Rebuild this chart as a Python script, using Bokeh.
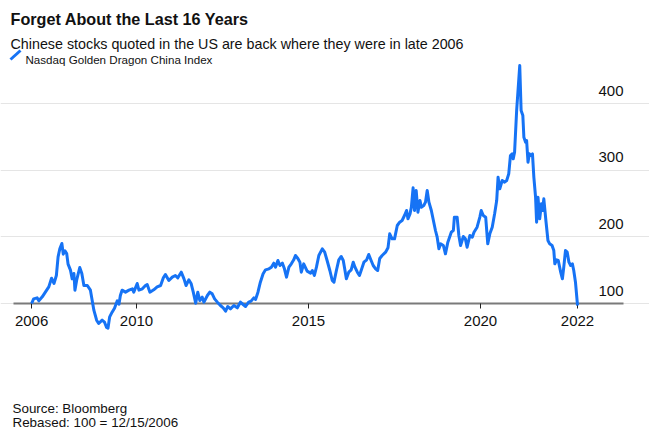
from bokeh.plotting import figure
from bokeh.models import (Range1d, LinearAxis, FixedTicker, CustomJSTickFormatter,
                          Grid, Label, LabelSet, ColumnDataSource, Arrow)
from bokeh.core.properties import value
from bokeh.embed import file_html
from bokeh.resources import INLINE

# ---------------- data ----------------
years = [
    2006.95, 2007.01, 2007.11, 2007.16, 2007.26, 2007.35, 2007.45, 2007.53, 2007.60, 2007.67,
    2007.72, 2007.77, 2007.83, 2007.87, 2007.92, 2007.97, 2008.01, 2008.08, 2008.13, 2008.18,
    2008.21, 2008.26, 2008.35, 2008.41, 2008.47, 2008.57, 2008.66, 2008.71, 2008.76, 2008.84,
    2008.90, 2009.00, 2009.07, 2009.13, 2009.17, 2009.22, 2009.29, 2009.36, 2009.44, 2009.49,
    2009.53, 2009.58, 2009.68, 2009.78, 2009.88, 2009.92, 2010.02, 2010.07, 2010.17, 2010.26,
    2010.31, 2010.39, 2010.50, 2010.60, 2010.70, 2010.78, 2010.84, 2010.94, 2011.04, 2011.13,
    2011.20, 2011.30, 2011.38, 2011.44, 2011.52, 2011.59, 2011.65, 2011.72, 2011.78, 2011.84,
    2011.91, 2011.96, 2012.06, 2012.13, 2012.20, 2012.27, 2012.35, 2012.44, 2012.52, 2012.59,
    2012.65, 2012.73, 2012.83, 2012.93, 2013.02, 2013.10, 2013.17, 2013.26, 2013.33, 2013.41,
    2013.46, 2013.53, 2013.60, 2013.68, 2013.75, 2013.85, 2013.92, 2013.99, 2014.04, 2014.11,
    2014.17, 2014.24, 2014.30, 2014.36, 2014.43, 2014.50, 2014.57, 2014.62, 2014.69, 2014.75,
    2014.79, 2014.86, 2014.96, 2015.06, 2015.11, 2015.17, 2015.23, 2015.30, 2015.40, 2015.47,
    2015.54, 2015.62, 2015.69, 2015.74, 2015.81, 2015.88, 2015.95, 2016.01, 2016.06, 2016.10,
    2016.17, 2016.24, 2016.30, 2016.35, 2016.42, 2016.48, 2016.53, 2016.61, 2016.69, 2016.75,
    2016.82, 2016.88, 2016.95, 2017.01, 2017.07, 2017.14, 2017.24, 2017.31, 2017.36, 2017.43,
    2017.50, 2017.58, 2017.65, 2017.72, 2017.79, 2017.85, 2017.89, 2017.95, 2017.99, 2018.04,
    2018.08, 2018.13, 2018.18, 2018.24, 2018.28, 2018.35, 2018.40, 2018.45, 2018.50, 2018.57,
    2018.63, 2018.69, 2018.74, 2018.79, 2018.84, 2018.92, 2018.98, 2019.05, 2019.15, 2019.21,
    2019.24, 2019.32, 2019.37, 2019.42, 2019.50, 2019.56, 2019.61, 2019.69, 2019.76, 2019.81,
    2019.90, 2019.98, 2020.02, 2020.08, 2020.15, 2020.21, 2020.27, 2020.34, 2020.41, 2020.47,
    2020.51, 2020.56, 2020.63, 2020.70, 2020.76, 2020.82, 2020.87, 2020.92, 2020.95, 2020.99,
    2021.05, 2021.11, 2021.14, 2021.18, 2021.23, 2021.26, 2021.31, 2021.34, 2021.38, 2021.42,
    2021.47, 2021.51, 2021.55, 2021.60, 2021.63, 2021.67, 2021.72, 2021.77, 2021.80, 2021.84,
    2021.90, 2021.96, 2022.01, 2022.08, 2022.13, 2022.16, 2022.21, 2022.26, 2022.33, 2022.38,
    2022.42, 2022.47, 2022.52, 2022.57, 2022.62, 2022.67, 2022.71, 2022.76, 2022.82,
]
index_values = [
    100, 107, 108.5, 104, 110, 117, 125, 138, 130, 142,
    170, 182, 190, 174, 179, 175, 159, 150, 137, 145,
    120, 135, 154, 145, 127, 127, 120, 105, 90, 75,
    70, 75, 72, 64, 63, 80, 87, 93, 104, 99,
    112, 120, 117, 120, 122, 117, 130, 120, 122, 127,
    128.5, 117, 120.5, 125, 127, 138.5, 143.5, 134.5, 139.5, 142,
    138.5, 147, 137, 127, 135.5, 129.5, 117, 100.5, 117, 104.5,
    109.5, 102, 112, 117, 114.5, 107, 102, 97, 93.5, 88.5,
    95.5, 92, 97, 93.5, 102, 98.5, 95.5, 102, 103.5, 108.5,
    106, 117, 132, 144.5, 150.5, 152, 154.5, 160.5, 154.5, 164.5,
    157, 160.5, 152, 139.5, 154.5, 159.5, 165.5, 172, 167.5, 162,
    147, 159.5, 148.5, 145.5, 149.5, 142, 154.5, 172, 182, 177,
    164.5, 149.5, 134.5, 132, 149.5, 165.5, 170.5, 164.5, 149.5, 137,
    147, 150.5, 162, 154.5, 147, 142, 149.5, 162, 165.5, 173.5,
    164.5, 157, 152, 149.5, 167.5, 172, 177, 183.5, 204.5, 197,
    197, 217, 222, 224.5, 232, 239.5, 227, 234.5, 244.5, 273.5,
    239.5, 269.5, 237, 254.5, 244.5, 247, 252, 269.5, 252, 239.5,
    224.5, 209.5, 199.5, 182, 189.5, 187, 174.5, 192, 207, 209.5,
    229.5, 229.5, 202, 187, 200.5, 197, 184.5, 202, 199.5, 207,
    214.5, 229.5, 239.5, 232, 229.5, 189.5, 204.5, 214.5, 234.5, 254.5,
    289.5, 272, 284.5, 282, 284.5, 294.5, 322, 324.5, 317, 327,
    389.5, 434.5, 457, 389.5, 382, 349.5, 342, 344.5, 312, 324.5,
    322, 324.5, 289.5, 259.5, 222, 259.5, 227, 249.5, 239.5, 257,
    224.5, 194.5, 189.5, 187, 179.5, 159.5, 165.5, 164.5, 147, 137,
    154.5, 179.5, 177, 162, 157, 159.5, 149.5, 132, 97,
]
y_ticks = [100, 200, 300, 400]
y_tick_labels = ["100", "200", "300", "400"]
x_ticks = [years[0], 2010, 2015, 2020, years[-1]]

title_text = "Forget About the Last 16 Years"
subtitle_text = "Chinese stocks quoted in the US are back where they were in late 2006"
series_name = "Nasdaq Golden Dragon China Index"
source_text = "Source: Bloomberg"
note_text = "Rebased: 100 = 12/15/2006"

# ---------------- layout / styling ----------------
FONT = "Liberation Sans"
BLUE = "#1673f5"
TEXT = "#111111"
W, H = 649, 435
PLOT_X = (2006.424, 2024.157)   # horizontal extent of grid lines / baseline

# the frame covers the whole canvas; the chart area is bounded by grid/axis bounds
p = figure(width=W, height=H, output_backend="svg", toolbar_location=None,
           x_axis_location=None, y_axis_location=None, title=None,
           x_range=Range1d(2006.046, 2024.912), y_range=Range1d(-98, 554.5),
           min_border=0, outline_line_color=None,
           background_fill_color="white", border_fill_color="white")
p.grid.visible = False

grid = Grid(dimension=1, ticker=FixedTicker(ticks=y_ticks), bounds=PLOT_X,
            grid_line_color="#e5e5e5", grid_line_width=1)
p.add_layout(grid, "center")

xaxis = LinearAxis(ticker=FixedTicker(ticks=x_ticks), bounds=PLOT_X,
                   formatter=CustomJSTickFormatter(code="return Math.floor(tick).toString()"),
                   fixed_location=100,
                   axis_line_color="#7a7a7a", axis_line_width=2,
                   major_tick_in=0, major_tick_out=5, major_tick_line_color="#222222",
                   minor_tick_line_color=None, major_label_standoff=7,
                   major_label_text_font=FONT, major_label_text_font_size="15px",
                   major_label_text_color=TEXT)
p.add_layout(xaxis, "below")

p.line(years, index_values, line_color=BLUE, line_width=3, line_join="round", level="overlay")

ysrc = ColumnDataSource(dict(x=[PLOT_X[1]] * len(y_ticks), y=y_ticks, text=y_tick_labels))
p.add_layout(LabelSet(x="x", y="y", text="text", source=ysrc, text_align="right",
                      text_baseline="alphabetic", y_offset=8, text_font=value(FONT),
                      text_font_size="15px", text_color=TEXT))

def lab(text, x, y, size, bold=False):
    # x from the left edge, y from the bottom edge of the canvas (screen pixels)
    p.add_layout(Label(x=x, y=y, x_units="screen", y_units="screen", text=text,
                       text_font=FONT, text_font_size=size, text_color=TEXT,
                       text_font_style="bold" if bold else "normal",
                       text_baseline="alphabetic", text_align="left"))

lab(title_text, 10, H - 18, "16.2px", bold=True)
lab(subtitle_text, 10, H - 43, "14.3px")
lab(series_name, 25, H - 58.5, "11.6px")
lab(source_text, 12, H - 408.3, "13.4px")
lab(note_text, 12, H - 422.3, "13.4px")

p.add_layout(Arrow(x_start=10, y_start=H - 59, x_end=20, y_end=H - 50,
                   start_units="screen", end_units="screen", start=None, end=None,
                   line_color=BLUE, line_width=3))

open("out.html", "w").write(file_html(p, INLINE))
